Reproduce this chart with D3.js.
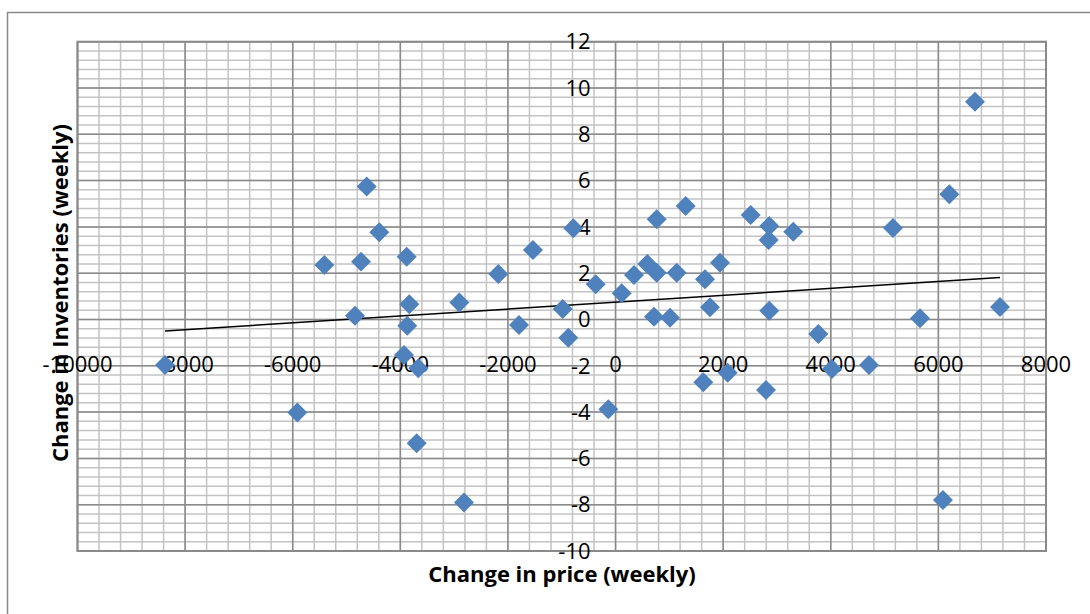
<!DOCTYPE html>
<html>
<head>
<meta charset="utf-8">
<script src="https://cdn.jsdelivr.net/npm/d3@7"></script>
<style>
  body { margin: 0; background: #fff; }
  svg { display: block; }
</style>
</head>
<body>
<div id="chart"></div>
<script>
// Weekly change in price (x) vs change in inventories (y)
var priceChange = [
  -8374, -5915, -5413, -4843, -4731, -4625, -4391, -3932, -3882, -3871,
  -3833, -3696, -3666, -2904, -2817, -2179, -1795, -1535, -982, -878,
  -785, -369, -135, 114, 343, 590, 714, 765, 765, 1012,
  1136, 1303, 1631, 1662, 1755, 1941, 2084, 2512, 2796, 2846,
  2857, 2857, 3303, 3768, 4022, 4710, 5156, 5658, 6085, 6203,
  6680, 7145
];
var inventoryChange = [
  -1.97, -4.02, 2.35, 0.16, 2.50, 5.74, 3.77, -1.53, 2.71, -0.27,
  0.66, -5.35, -2.11, 0.73, -7.9, 1.97, -0.24, 3.0, 0.45, -0.79,
  3.94, 1.52, -3.88, 1.13, 1.92, 2.40, 0.12, 2.02, 4.33, 0.08,
  2.02, 4.90, -2.71, 1.74, 0.53, 2.45, -2.30, 4.51, -3.05, 3.43,
  4.04, 0.38, 3.79, -0.63, -2.14, -1.97, 3.95, 0.05, -7.8, 5.41,
  9.41, 0.54
];

// Tick labels
var xTicks = [-10000, -8000, -6000, -4000, -2000, 0, 2000, 4000, 6000, 8000];
var yTicks = [-10, -8, -6, -4, -2, 0, 2, 4, 6, 8, 10, 12];

var xTitle = 'Change in price (weekly)';
var yTitle = 'Change in Inventories (weekly)';

// Colors
var COLORS = {
  MARKER: '#4F81BD',
  MAJOR_GRID: '#8a8a8a',
  MINOR_GRID: '#c3c3c3',
  BORDER: '#8a8a8a',
  TEXT: '#000'
};

var WIDTH = 1090,
    HEIGHT = 614,
    PLOT_LEFT = 77.5,
    PLOT_RIGHT = 1046,
    PLOT_TOP = 41.7,
    PLOT_BOTTOM = 551,
    FONT = '"Open Sans", "Liberation Sans", sans-serif';

var svg = d3.select('#chart')
  .append('svg')
  .attr('width', WIDTH)
  .attr('height', HEIGHT);

// Outer chart border (runs off the right and bottom of the picture)
svg.append('rect')
  .attr('x', 7.5)
  .attr('y', 12.5)
  .attr('width', WIDTH + 20)
  .attr('height', HEIGHT + 20)
  .attr('fill', 'none')
  .attr('stroke', COLORS.BORDER)
  .attr('stroke-width', 1.5);

var x = d3.scaleLinear()
  .domain([xTicks[0], xTicks[xTicks.length - 1]])
  .range([PLOT_LEFT, PLOT_RIGHT]);

var y = d3.scaleLinear()
  .domain([yTicks[0], yTicks[yTicks.length - 1]])
  .range([PLOT_BOTTOM, PLOT_TOP]);

// Minor gridlines: five per major step
var xMinor = d3.range(0, (xTicks.length - 1) * 5 + 1).map(function(i) {
  return xTicks[0] + i * (xTicks[1] - xTicks[0]) / 5;
});
var yMinor = d3.range(0, (yTicks.length - 1) * 5 + 1).map(function(i) {
  return yTicks[0] + i * (yTicks[1] - yTicks[0]) / 5;
});

var grid = svg.append('g');

grid.selectAll('.vminor')
  .data(xMinor)
  .enter().append('line')
  .attr('x1', function(d) { return x(d); })
  .attr('x2', function(d) { return x(d); })
  .attr('y1', PLOT_TOP)
  .attr('y2', PLOT_BOTTOM)
  .attr('stroke', COLORS.MINOR_GRID)
  .attr('stroke-width', 1.5);

grid.selectAll('.hminor')
  .data(yMinor)
  .enter().append('line')
  .attr('x1', PLOT_LEFT)
  .attr('x2', PLOT_RIGHT)
  .attr('y1', function(d) { return y(d); })
  .attr('y2', function(d) { return y(d); })
  .attr('stroke', COLORS.MINOR_GRID)
  .attr('stroke-width', 1.5);

grid.selectAll('.vmajor')
  .data(xTicks)
  .enter().append('line')
  .attr('x1', function(d) { return x(d); })
  .attr('x2', function(d) { return x(d); })
  .attr('y1', PLOT_TOP)
  .attr('y2', PLOT_BOTTOM)
  .attr('stroke', COLORS.MAJOR_GRID)
  .attr('stroke-width', 1.5);

grid.selectAll('.hmajor')
  .data(yTicks)
  .enter().append('line')
  .attr('x1', PLOT_LEFT)
  .attr('x2', PLOT_RIGHT)
  .attr('y1', function(d) { return y(d); })
  .attr('y2', function(d) { return y(d); })
  .attr('stroke', COLORS.MAJOR_GRID)
  .attr('stroke-width', 1.5);

// Plot area border
svg.append('rect')
  .attr('x', PLOT_LEFT)
  .attr('y', PLOT_TOP)
  .attr('width', PLOT_RIGHT - PLOT_LEFT)
  .attr('height', PLOT_BOTTOM - PLOT_TOP)
  .attr('fill', 'none')
  .attr('stroke', COLORS.BORDER)
  .attr('stroke-width', 2);

// Y axis tick labels, sitting left of the x = 0 axis
svg.append('g')
  .selectAll('text')
  .data(yTicks)
  .enter().append('text')
  .attr('x', x(0) - 25)
  .attr('y', function(d) { return y(d); })
  .attr('dy', '0.35em')
  .attr('text-anchor', 'end')
  .attr('font-family', FONT)
  .attr('font-size', '22px')
  .attr('fill', COLORS.TEXT)
  .text(function(d) { return d; });

// X axis tick labels, they sit on the -2 gridline in the original
svg.append('g')
  .selectAll('text')
  .data(xTicks)
  .enter().append('text')
  .attr('x', function(d) { return x(d); })
  .attr('y', y(-2) - 2)
  .attr('dy', '0.35em')
  .attr('text-anchor', 'middle')
  .attr('font-family', FONT)
  .attr('font-size', '22px')
  .attr('fill', COLORS.TEXT)
  .text(function(d) { return d; });

// Linear trendline (least squares), spanning the data range
var xMean = d3.mean(priceChange),
    yMean = d3.mean(inventoryChange);
var sxy = d3.sum(priceChange, function(v, i) { return (v - xMean) * (inventoryChange[i] - yMean); });
var sxx = d3.sum(priceChange, function(v) { return (v - xMean) * (v - xMean); });
var slope = sxy / sxx,
    intercept = yMean - slope * xMean;
var xExtent = d3.extent(priceChange);

svg.append('line')
  .attr('x1', x(xExtent[0]))
  .attr('y1', y(intercept + slope * xExtent[0]))
  .attr('x2', x(xExtent[1]))
  .attr('y2', y(intercept + slope * xExtent[1]))
  .attr('stroke', '#000')
  .attr('stroke-width', 1.5);

// Diamond markers
var diamond = d3.symbol().type(d3.symbolSquare).size(200);

svg.append('g')
  .selectAll('path')
  .data(priceChange)
  .enter().append('path')
  .attr('d', diamond)
  .attr('transform', function(d, i) {
    return 'translate(' + x(d) + ',' + y(inventoryChange[i]) + ') rotate(45)';
  })
  .attr('fill', COLORS.MARKER);

// Axis titles
svg.append('text')
  .attr('x', 562)
  .attr('y', 582)
  .attr('text-anchor', 'middle')
  .attr('font-family', FONT)
  .attr('font-weight', 'bold')
  .attr('font-size', '22px')
  .attr('fill', COLORS.TEXT)
  .text(xTitle);

svg.append('text')
  .attr('transform', 'translate(68, 293) rotate(-90)')
  .attr('text-anchor', 'middle')
  .attr('font-family', FONT)
  .attr('font-weight', 'bold')
  .attr('font-size', '22px')
  .attr('fill', COLORS.TEXT)
  .text(yTitle);
</script>
</body>
</html>
